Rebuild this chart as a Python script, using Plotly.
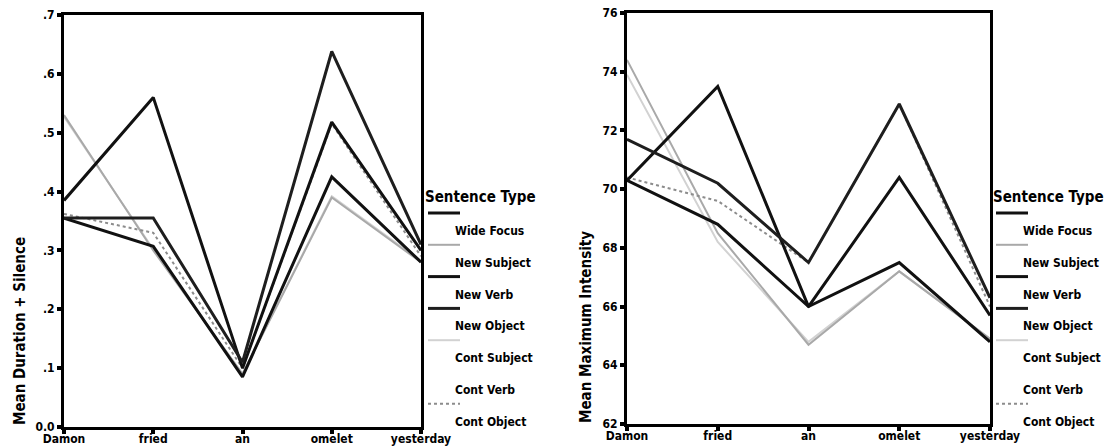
import plotly.graph_objects as go

# Words of the sentence (x categories)
words = ["Damon", "fried", "an", "omelet", "yesterday"]

sentence_types = ["Wide Focus", "New Subject", "New Verb", "New Object",
                  "Cont Subject", "Cont Verb", "Cont Object"]

# Mean duration + silence (s) per word
dur_wide_focus = [0.355, 0.307, 0.085, 0.425, 0.280]
dur_new_subject = [0.530, 0.300, 0.090, 0.390, 0.280]
dur_new_verb = [0.385, 0.560, 0.100, 0.518, 0.300]
dur_new_object = [0.355, 0.355, 0.110, 0.638, 0.310]
dur_cont_subject = [0.527, 0.302, 0.090, 0.392, 0.282]
dur_cont_verb = [0.370, 0.500, 0.100, 0.500, 0.300]
dur_cont_object = [0.362, 0.330, 0.100, 0.515, 0.290]

# Mean maximum intensity (dB) per word
int_wide_focus = [70.3, 68.8, 66.0, 67.5, 64.8]
int_new_subject = [74.4, 68.5, 64.7, 67.2, 64.9]
int_new_verb = [70.3, 73.5, 66.0, 70.4, 65.7]
int_new_object = [71.7, 70.2, 67.5, 72.9, 66.3]
int_cont_subject = [73.9, 68.2, 64.8, 67.2, 64.9]
int_cont_verb = [70.2, 73.0, 66.2, 70.2, 65.6]
int_cont_object = [70.4, 69.6, 67.5, 72.9, 66.0]

dur_ticks = [0.0, 0.1, 0.2, 0.3, 0.4, 0.5, 0.6, 0.7]
dur_ticktext = ["0.0", ".1", ".2", ".3", ".4", ".5", ".6", ".7"]
int_ticks = [62, 64, 66, 68, 70, 72, 74, 76]

duration = dict(zip(sentence_types, [dur_wide_focus, dur_new_subject, dur_new_verb, dur_new_object,
                                     dur_cont_subject, dur_cont_verb, dur_cont_object]))
intensity = dict(zip(sentence_types, [int_wide_focus, int_new_subject, int_new_verb, int_new_object,
                                      int_cont_subject, int_cont_verb, int_cont_object]))

styles = {
    "Wide Focus": dict(color="#111111", width=3),
    "New Subject": dict(color="#a9a9a9", width=2),
    "New Verb": dict(color="#111111", width=3),
    "New Object": dict(color="#1e1e1e", width=3),
    "Cont Subject": dict(color="#d2d2d2", width=2),
    "Cont Verb": dict(color="#ffffff", width=2),
    "Cont Object": dict(color="#8c8c8c", width=2, dash="dot"),
}
# light lines first so the dark ones sit on top
draw_order = ["Cont Verb", "Cont Subject", "New Subject", "Cont Object",
              "Wide Focus", "New Verb", "New Object"]

W, H = 1108, 447


def fx(px):
    return px / W


def fy(py):
    return 1 - py / H


FONT = "DejaVu Sans Condensed"
fig = go.Figure()

for name in draw_order:
    fig.add_trace(go.Scatter(x=words, y=duration[name], mode="lines", line=styles[name],
                             name=name, showlegend=False, xaxis="x", yaxis="y",
                             hoverinfo="skip"))
    fig.add_trace(go.Scatter(x=words, y=intensity[name], mode="lines", line=styles[name],
                             name=name, showlegend=False, xaxis="x2", yaxis="y2",
                             hoverinfo="skip"))

axis_common = dict(showline=True, mirror=True, linecolor="black", linewidth=3,
                   showgrid=False, zeroline=False, ticks="outside", ticklen=4,
                   tickwidth=4, tickcolor="black", automargin=False,
                   tickfont=dict(family=FONT, size=12, color="black", weight="bold"))
xaxis_extra = dict(ticklabelstandoff=-5)

fig.update_layout(
    width=W, height=H, margin=dict(l=0, r=0, t=0, b=0, autoexpand=False),
    paper_bgcolor="white", plot_bgcolor="white",
    xaxis=dict(domain=[fx(64), fx(421)], type="category", range=[0, 4],
               anchor="y", **axis_common, **xaxis_extra),
    yaxis=dict(domain=[fy(427), fy(15)], range=[0, 0.7], tickvals=dur_ticks,
               ticktext=dur_ticktext, anchor="x", **axis_common),
    xaxis2=dict(domain=[fx(627), fx(990)], type="category", range=[0, 4],
                anchor="y2", **axis_common, **xaxis_extra),
    yaxis2=dict(domain=[fy(424), fy(13)], range=[62, 76], tickvals=int_ticks,
                anchor="x2", **axis_common),
)

annotations = []
shapes = []

# axis titles
annotations.append(dict(text="Mean Duration + Silence", x=fx(20), y=fy(427), xref="paper",
                        yref="paper", textangle=-90, xanchor="center", yanchor="bottom",
                        showarrow=False, font=dict(family=FONT, size=15, color="black",
                                                   weight="bold")))
annotations.append(dict(text="Mean Maximum Intensity", x=fx(586), y=fy(425), xref="paper",
                        yref="paper", textangle=-90, xanchor="center", yanchor="bottom",
                        showarrow=False, font=dict(family=FONT, size=15, color="black",
                                                   weight="bold")))

# legends (swatch above each label)
for lx in (425, 993):
    annotations.append(dict(text="Sentence Type", x=fx(lx - 2), y=fy(197), xref="paper",
                            yref="paper", xanchor="left", yanchor="middle", showarrow=False,
                            font=dict(family=FONT, size=15, color="black", weight="bold")))
    for i, name in enumerate(sentence_types):
        sy = 213 + 31.8 * i
        st = styles[name]
        shapes.append(dict(type="line", xref="paper", yref="paper",
                           x0=fx(lx + 3), x1=fx(lx + 35), y0=fy(sy), y1=fy(sy),
                           line=dict(color=st["color"], width=st["width"],
                                     dash=st.get("dash", "solid"))))
        annotations.append(dict(text=name, x=fx(lx + 28), y=fy(sy + 18), xref="paper",
                                yref="paper", xanchor="left", yanchor="middle",
                                showarrow=False,
                                font=dict(family=FONT, size=12, color="black",
                                          weight="bold")))

fig.update_layout(annotations=annotations, shapes=shapes)
fig.write_html("out.html")
